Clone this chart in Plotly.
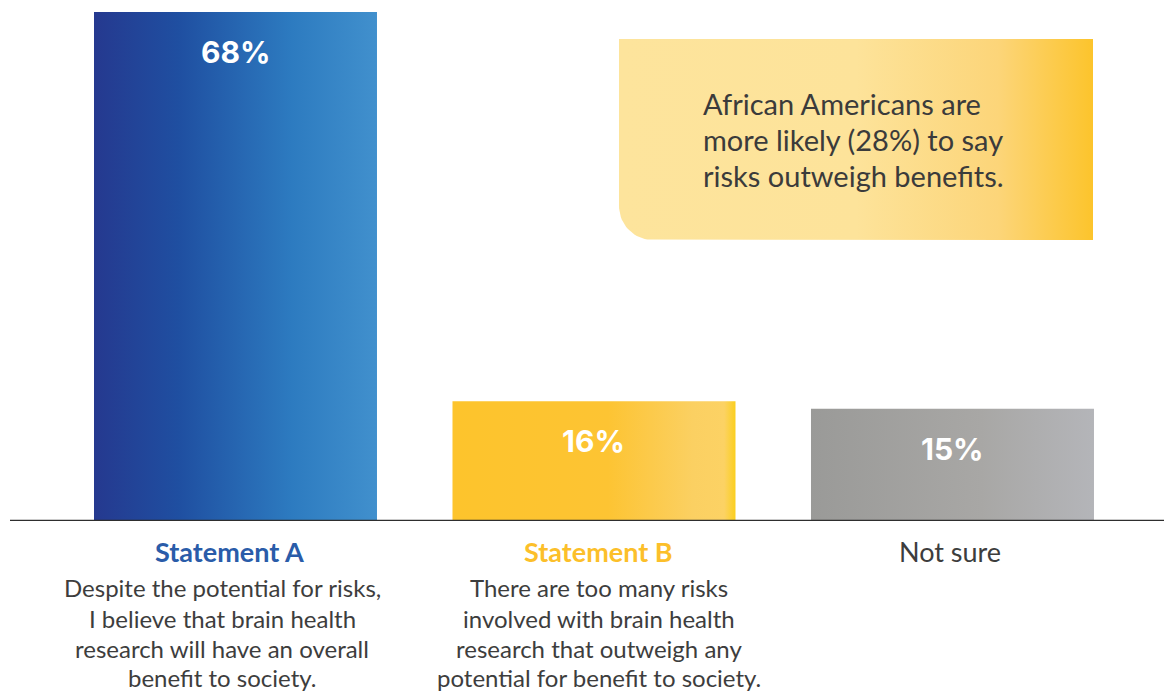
import plotly.graph_objects as go
import numpy as np

# ---------------- data ----------------
categories = ["Statement A", "Statement B", "Not sure"]
values = [68, 16, 15]
value_labels = ["68%", "16%", "15%"]
desc_lines = [
    ["Despite the potential for risks,", "I believe that brain health",
     "research will have an overall", "benefit to society."],
    ["There are too many risks", "involved with brain health",
     "research that outweigh any", "potential for benefit to society."],
    [],
]
callout_lines = ["African Americans are", "more likely (28%) to say",
                 "risks outweigh benefits."]

# ---------------- styles ----------------
bar_gradients = [
    [[0, "#25398f"], [0.3, "#1f4fa1"], [0.7, "#2d7bc0"], [1, "#4190cd"]],
    [[0, "#fdc42c"], [0.55, "#fdc433"], [0.85, "#fbd062"], [0.96, "#fcd264"], [1, "#fbcf1e"]],
    [[0, "#9a9a98"], [0.6, "#a8a7a5"], [1, "#b4b5b9"]],
]
title_colors = ["#2a5ca9", "#fcbf2a", "#3d3d3d"]
title_bold = [True, True, False]
title_xshift = [-6, 5, -2]
desc_xshift = [-13, 5, 0]
callout_scale = [[0, "#fde49c"], [0.5, "#fde39a"], [0.8, "#fcd579"], [1, "#fcc42c"]]

OFF = 0
W, H = 1164, 691
ML, MR, MT, MB = 10, 0, 0, 170
PW, PH = W - ML - MR, H - MT - MB
XR = [-0.629, 2.590]
YR = [0, 69.6]
HALF = 0.3947
FONT = "Lato"


def px2x(px):
    return XR[0] + (px - OFF - ML) / PW * (XR[1] - XR[0])


def py2y(py):
    return YR[0] + (OFF + MT + PH - py) / PH * (YR[1] - YR[0])


fig = go.Figure()

# callout box with rounded bottom-left corner
x0p, x1p, y0p, y1p, r = 619, 1093, 39, 240, 34
ang = np.linspace(np.pi / 2, np.pi, 20)
arc_x = [x0p + r + r * np.cos(a) for a in ang]
arc_y = [y1p - r + r * np.sin(a) for a in ang]
poly_px = [x0p, x1p, x1p] + arc_x + [x0p]
poly_py = [y0p, y0p, y1p] + arc_y + [y0p]
fig.add_trace(go.Scatter(
    x=[px2x(p) for p in poly_px], y=[py2y(p) for p in poly_py],
    mode="lines", fill="toself", line=dict(width=0),
    fillgradient=dict(type="horizontal", colorscale=callout_scale),
    hoverinfo="skip", showlegend=False))

# bars
for i, (cat, v) in enumerate(zip(categories, values)):
    fig.add_trace(go.Scatter(
        x=[i - HALF, i + HALF, i + HALF, i - HALF, i - HALF],
        y=[0, 0, v, v, 0],
        mode="lines", fill="toself", line=dict(width=0),
        fillgradient=dict(type="horizontal", colorscale=bar_gradients[i]),
        name=cat, hoverinfo="skip", showlegend=False))

annotations = []
for i, (cat, v, lab) in enumerate(zip(categories, values, value_labels)):
    annotations.append(dict(
        x=i, y=v, xref="x", yref="y", text=f"<b>{lab}</b>", showarrow=False,
        xanchor="center", yanchor="middle", yshift=-40,
        font=dict(family="Inter", size=30, color="white")))
    t = f"<b>{cat}</b>" if title_bold[i] else cat
    annotations.append(dict(
        x=i, y=0, xref="x", yref="y", text=t, showarrow=False,
        xanchor="center", yanchor="middle", yshift=-30, xshift=title_xshift[i],
        font=dict(family=FONT, size=27, color=title_colors[i])))
    line_off = [-66, -97, -127, -156]
    for j, line in enumerate(desc_lines[i]):
        annotations.append(dict(
            x=i, y=0, xref="x", yref="y", text=line, showarrow=False,
            xanchor="center", yanchor="middle", yshift=line_off[j],
            xshift=desc_xshift[i],
            font=dict(family=FONT, size=24, color="#3d3d3d")))

for j, line in enumerate(callout_lines):
    annotations.append(dict(
        x=px2x(701), y=py2y([103, 139, 175][j]), xref="x", yref="y",
        text=line, showarrow=False, xanchor="left", yanchor="middle",
        font=dict(family=FONT, size=29, color="#3b3b3b")))

fig.update_layout(
    width=W, height=H,
    margin=dict(l=ML, r=MR, t=MT, b=MB),
    paper_bgcolor="white", plot_bgcolor="white",
    xaxis=dict(range=XR, visible=False, fixedrange=True),
    yaxis=dict(range=YR, visible=False, fixedrange=True),
    annotations=annotations,
    shapes=[dict(type="line", xref="paper", yref="y", x0=0, x1=1, y0=0, y1=0,
                 line=dict(color="#2e2e2e", width=2.5))],
    showlegend=False,
)

fig.write_html(
    "out.html",
    config={"displayModeBar": False},
    post_script="document.body.style.margin='0';document.body.style.overflow='hidden';",
)
